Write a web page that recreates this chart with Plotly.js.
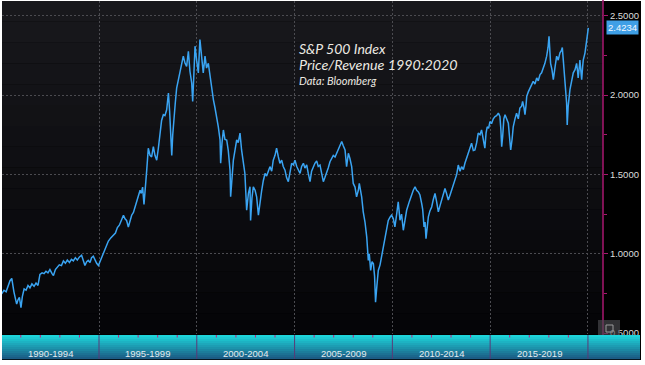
<!DOCTYPE html>
<html><head><meta charset="utf-8">
<script src="https://cdn.plot.ly/plotly-3.0.1.min.js"></script>
<style>html,body{margin:0;padding:0;background:#fff;}#chart{width:645px;height:365px;}</style>
</head><body><div id="chart"></div>
<script>
// ---- data (decimal year, price/revenue ratio) ----
const years1990s = [1990.02,1990.14,1990.25,1990.36,1990.45,1990.54,1990.59,1990.65,1990.72,1990.79,1990.86,1990.93,
1991.01,1991.08,1991.17,1991.27,1991.37,1991.47,1991.57,1991.68,1991.78,1991.88,1991.98,
1992.09,1992.19,1992.29,1992.39,1992.49,1992.60,1992.67,1992.77,1992.87,1992.97,
1993.08,1993.18,1993.28,1993.38,1993.49,1993.59,1993.69,1993.79,1993.89,
1994.00,1994.11,1994.20,1994.28,1994.37,1994.45,1994.54,1994.62,1994.71,1994.80,1994.88,1994.97,
1995.09,1995.22,1995.36,1995.48,1995.60,1995.73,1995.84,1995.94,
1996.04,1996.14,1996.25,1996.33,1996.41,1996.50,1996.58,1996.67,1996.76,1996.84,1996.93,
1997.01,1997.10,1997.16,1997.23,1997.30,1997.37,1997.44,1997.52,1997.61,1997.69,1997.78,1997.86,1997.95,
1998.03,1998.12,1998.20,1998.29,1998.37,1998.46,1998.55,1998.61,1998.66,1998.72,1998.77,1998.83,1998.90,1998.97,
1999.06,1999.14,1999.23,1999.31,1999.40,1999.48,1999.57,1999.65,1999.74,1999.79,1999.84,1999.91,1999.99,
2000.08];
const ratio1990s = [0.747,0.77,0.76,0.80,0.83,0.845,0.80,0.76,0.72,0.683,0.71,0.725,
0.66,0.73,0.778,0.77,0.80,0.785,0.81,0.795,0.815,0.80,0.87,
0.88,0.875,0.89,0.88,0.90,0.875,0.863,0.90,0.915,0.93,
0.925,0.955,0.94,0.96,0.945,0.965,0.955,0.975,0.96,
0.98,0.99,0.96,0.926,0.95,0.958,0.945,0.975,0.985,0.96,0.94,0.926,
0.96,1.0,1.04,1.08,1.10,1.115,1.13,1.165,
1.18,1.21,1.243,1.22,1.21,1.169,1.21,1.243,1.26,1.295,1.32,
1.36,1.40,1.38,1.42,1.31,1.45,1.527,1.665,1.62,1.61,1.675,1.62,1.59,
1.66,1.78,1.84,1.876,1.87,1.907,2.013,1.90,1.80,1.62,1.75,1.865,1.95,2.044,
2.10,2.16,2.20,2.245,2.20,2.18,2.276,2.15,2.076,1.96,2.10,2.308,2.22,
2.14];
const years2000s = [2000.16,2000.25,2000.33,2000.42,2000.50,2000.59,2000.68,2000.76,2000.85,2000.93,
2001.02,2001.10,2001.19,2001.22,2001.29,2001.36,2001.44,2001.53,2001.61,2001.70,2001.73,2001.80,2001.87,2001.95,
2002.04,2002.12,2002.21,2002.29,2002.38,2002.46,2002.55,2002.64,2002.72,2002.75,2002.82,2002.89,2002.98,
2003.06,2003.15,2003.23,2003.32,2003.40,2003.49,2003.57,2003.66,2003.74,2003.83,2003.91,
2004.00,2004.08,2004.17,2004.25,2004.34,2004.42,2004.51,2004.59,2004.68,2004.76,2004.85,2004.94,
2005.02,2005.11,2005.19,2005.28,2005.36,2005.45,2005.53,2005.62,2005.70,2005.79,2005.87,2005.96,
2006.04,2006.13,2006.21,2006.30,2006.38,2006.47,2006.55,2006.64,2006.72,2006.81,2006.90,2006.98,
2007.07,2007.15,2007.24,2007.32,2007.41,2007.49,2007.58,2007.66,2007.75,2007.83,2007.92,
2008.00,2008.09,2008.17,2008.26,2008.31,2008.38,2008.43,2008.51,2008.60,2008.69,2008.77,2008.82,2008.89,2008.96,
2009.03,2009.09,2009.14,2009.21,2009.28,2009.37,2009.45,2009.54,2009.62,2009.71,2009.79,2009.88,2009.96,
2010.05,2010.13,2010.22,2010.30];
const ratio2000s = [2.35,2.25,2.14,2.245,2.17,2.20,2.12,2.034,1.97,1.92,
1.865,1.80,1.717,1.57,1.70,1.78,1.72,1.717,1.65,1.527,1.359,1.50,1.59,1.65,
1.717,1.70,1.76,1.654,1.58,1.506,1.274,1.38,1.422,1.21,1.35,1.422,1.40,
1.359,1.243,1.33,1.40,1.46,1.506,1.49,1.53,1.549,1.52,1.59,
1.62,1.665,1.61,1.57,1.59,1.55,1.527,1.48,1.454,1.51,1.57,1.56,
1.59,1.55,1.53,1.506,1.55,1.57,1.54,1.56,1.506,1.454,1.52,1.55,
1.57,1.585,1.55,1.559,1.50,1.454,1.48,1.506,1.54,1.58,1.601,1.62,
1.61,1.633,1.66,1.68,1.707,1.68,1.654,1.549,1.633,1.60,1.549,
1.443,1.42,1.359,1.40,1.443,1.40,1.359,1.264,1.20,1.105,0.958,1.00,0.895,0.95,
0.937,0.86,0.694,0.80,0.895,0.93,0.979,1.04,1.105,1.15,1.21,1.23,1.243,
1.22,1.169,1.25,1.327];
const years2010s = [2010.39,2010.47,2010.56,2010.64,2010.73,2010.87,2010.99,
2011.07,2011.16,2011.24,2011.33,2011.41,2011.50,2011.55,2011.62,2011.67,2011.72,2011.79,2011.84,2011.92,
2012.01,2012.09,2012.18,2012.26,2012.35,2012.43,2012.52,2012.60,2012.69,2012.77,2012.86,2012.95,
2013.03,2013.12,2013.20,2013.29,2013.37,2013.46,2013.54,2013.63,2013.71,2013.80,2013.88,2013.97,
2014.05,2014.14,2014.22,2014.31,2014.39,2014.48,2014.56,2014.65,2014.73,2014.79,2014.85,2014.92,2014.99,
2015.07,2015.16,2015.25,2015.33,2015.42,2015.50,2015.55,2015.59,2015.64,2015.70,2015.76,2015.84,2015.93,2015.98,
2016.05,2016.12,2016.18,2016.27,2016.35,2016.44,2016.52,2016.61,2016.66,2016.73,2016.78,2016.83,2016.87,2016.95,
2017.03,2017.12,2017.20,2017.29,2017.38,2017.46,2017.55,2017.63,2017.72,2017.80,2017.89,2017.96,
2018.01,2018.06,2018.09,2018.16,2018.23,2018.31,2018.40,2018.48,2018.57,2018.64,2018.69,2018.74,2018.79,2018.88,2018.91,2018.94,2018.99,
2019.08,2019.17,2019.25,2019.34,2019.42,2019.47,2019.50,2019.56,2019.59,2019.64,2019.68,2019.73,2019.76,2019.85,2019.93,2019.98,
2020.02];
const ratio2010s = [1.211,1.25,1.148,1.20,1.274,1.33,1.38,
1.40,1.422,1.40,1.39,1.37,1.316,1.28,1.169,1.20,1.095,1.18,1.232,1.27,
1.295,1.34,1.38,1.33,1.264,1.30,1.338,1.37,1.411,1.38,1.338,1.37,
1.40,1.44,1.464,1.50,1.559,1.52,1.549,1.53,1.57,1.60,1.633,1.66,
1.696,1.65,1.654,1.70,1.76,1.75,1.78,1.72,1.665,1.76,1.80,1.79,1.833,
1.82,1.85,1.865,1.87,1.886,1.865,1.78,1.675,1.74,1.85,1.876,1.85,1.823,1.75,
1.654,1.72,1.80,1.85,1.886,1.85,1.918,1.93,1.96,1.92,1.876,1.93,1.992,2.02,
2.044,2.06,2.086,2.07,2.108,2.09,2.129,2.14,2.171,2.20,2.245,2.30,
2.37,2.26,2.20,2.16,2.097,2.17,2.245,2.22,2.266,2.28,2.30,2.22,2.14,2.034,1.95,1.812,1.93,
2.034,2.10,2.14,2.16,2.20,2.15,2.108,2.18,2.22,2.15,2.097,2.18,2.22,2.266,2.33,2.38,
2.4234];
const yTickVals = [0.5, 1.0, 1.5, 2.0, 2.5];
const periodStarts = [1990, 1995, 2000, 2005, 2010, 2015];
const periodLabels = ['1990-1994','1995-1999','2000-2004','2005-2009','2010-2014','2015-2019'];
const gridYears = [1995, 2000, 2005, 2010, 2015, 2020];
const lastValue = 2.4234;
const titleLines = ['S&P 500 Index', 'Price/Revenue 1990:2020', 'Data: Bloomberg'];

// ---- layout helpers ----
const W = 645, H = 365, L = 2, R = 42, T = 1, B = 31;
const PW = W - L - R, PH = H - T - B;
const px = x => (x - L) / PW;
const py = y => (H - B - y) / PH;
const XR = [1990.04, 2020.77];
const YR = [0.4943, 2.5927];
const MAG = '#a8176f';
const yrPx = PW / (XR[1] - XR[0]);

const xs = years1990s.concat(years2000s, years2010s);
const ys = ratio1990s.concat(ratio2000s, ratio2010s);

const shapes = [];
// black chart frame
shapes.push({type:'rect', xref:'paper', yref:'paper', x0:px(2), x1:px(641), y0:py(360), y1:py(1),
  fillcolor:'#000', line:{width:0}, layer:'below'});
// plot area gradient
function lerp(a, b, t){ return a.map((v,i)=>Math.round(v + (b[i]-v)*t)); }
const nb = 16;
for (let i = 0; i < nb; i++) {
  const c = lerp([24,24,28],[5,5,8], i/(nb-1));
  shapes.push({type:'rect', xref:'paper', yref:'paper', x0:0, x1:1,
    y1: 1 - i/nb, y0: 1 - (i+1)/nb, fillcolor:`rgb(${c})`, line:{width:0}, layer:'below'});
}
// cyan bottom bar gradient
const barTop = 335, barBot = 359, nbb = 12;
for (let i = 0; i < nbb; i++) {
  const c = lerp([30,212,218],[27,92,132], i/(nbb-1));
  const yA = barTop + (barBot-barTop)*i/nbb, yB = barTop + (barBot-barTop)*(i+1)/nbb + 0.3;
  shapes.push({type:'rect', xref:'paper', yref:'paper', x0:px(2), x1:px(640),
    y0: py(yB), y1: py(yA), fillcolor:`rgb(${c})`, line:{width:0}, layer:'above'});
}
// period dividers in the bar
gridYears.forEach(yr => shapes.push({type:'line', xref:'x', yref:'paper', x0:yr, x1:yr,
  y0:py(barBot), y1:py(barTop), line:{color:'#5b3a78', width:1}, layer:'above'}));
// yearly ticks at the top of the bar
for (let yr = 1991; yr <= 2020; yr++) {
  if (yr % 5 === 0) continue;
  shapes.push({type:'line', xref:'x', yref:'paper', x0:yr, x1:yr,
    y0:py(barTop+2.5), y1:py(barTop), line:{color:'#c2217e', width:1}, layer:'above'});
}
// magenta axis line continuing down to the bar
shapes.push({type:'line', xref:'paper', yref:'paper', x0:1, x1:1, y0:py(335), y1:py(0),
  line:{color:MAG, width:1.5}, layer:'above'});
// small widget box near the bottom-right
shapes.push({type:'rect', xref:'paper', yref:'paper', x0:px(598), x1:px(620), y0:py(335), y1:py(320),
  fillcolor:'rgba(75,75,80,0.65)', line:{width:0}, layer:'above'});
shapes.push({type:'rect', xref:'paper', yref:'paper', x0:px(606), x1:px(613), y0:py(332), y1:py(325),
  fillcolor:'rgba(0,0,0,0)', line:{color:'#9a9a9a', width:1}, layer:'above'});

const annotations = [];
const tFont = 'Lato, "Open Sans", sans-serif';
const tY = [48, 64.5, 80.5], tS = [14, 14.3, 11];
titleLines.forEach((t, i) => annotations.push({text:'<i>'+t+'</i>', xref:'paper', yref:'paper',
  x:px(297), y:py(tY[i]), xanchor:'left', yanchor:'middle', showarrow:false,
  font:{family:tFont, size:tS[i], color:'#ece9e2'}}));
periodLabels.forEach((lab, i) => annotations.push({text:lab, xref:'x', yref:'paper',
  x: periodStarts[i] + 2.5, y: py(353.5), xanchor:'center', yanchor:'middle', showarrow:false,
  font:{family:'"Liberation Sans", Arial, sans-serif', size:9.5, color:'#e4ecf0'}}));
annotations.push({text:lastValue.toFixed(4), xref:'paper', yref:'y', x:px(606), y:lastValue,
  xanchor:'left', yanchor:'middle', showarrow:false, bgcolor:'#3f9fe6', borderpad:1,
  font:{family:'"Liberation Sans", Arial, sans-serif', size:9.5, color:'#f4f8ff'}});

const traces = [
  {x: xs, y: ys, type:'scatter', mode:'lines', line:{color:'#3aa4f2', width:1.5}, hoverinfo:'skip'},
  {x: yTickVals.map(()=>XR[1] + 2.5/yrPx), y: yTickVals, type:'scatter', mode:'markers',
   marker:{symbol:'triangle-right', size:6, color:MAG}, cliponaxis:false, hoverinfo:'skip'},
  {x: [XR[1] + 2.5/yrPx], y: [lastValue], type:'scatter', mode:'markers',
   marker:{symbol:'triangle-left', size:7, color:'#3f9fe6'}, cliponaxis:false, hoverinfo:'skip'}
];

const layout = {
  width: W, height: H,
  margin: {l:L, r:R, t:T, b:B, pad:0},
  paper_bgcolor:'#ffffff', plot_bgcolor:'rgba(0,0,0,0)',
  showlegend:false,
  xaxis: {range: XR, tickvals: gridYears, showticklabels:false, ticks:'', showgrid:true,
    gridcolor:'#4b4b50', griddash:'2px,2px', gridwidth:1, zeroline:false, showline:false, fixedrange:true},
  yaxis: {range: YR, side:'right', tickvals: yTickVals, tickformat:'.4f', showgrid:true,
    gridcolor:'#4b4b50', griddash:'2px,2px', gridwidth:1, zeroline:false,
    showline:false, ticks:'outside', ticklen:4, tickcolor:MAG, tickwidth:1,
    minor:{dtick:0.25, ticks:'outside', ticklen:3, tickcolor:MAG, showgrid:false},
    tickfont:{family:'"Liberation Sans", Arial, sans-serif', size:9.5, color:'#dcdcdc'}, fixedrange:true},
  shapes: shapes,
  annotations: annotations
};

Plotly.newPlot('chart', traces, layout, {displayModeBar:false, staticPlot:true});
</script>
</body></html>
